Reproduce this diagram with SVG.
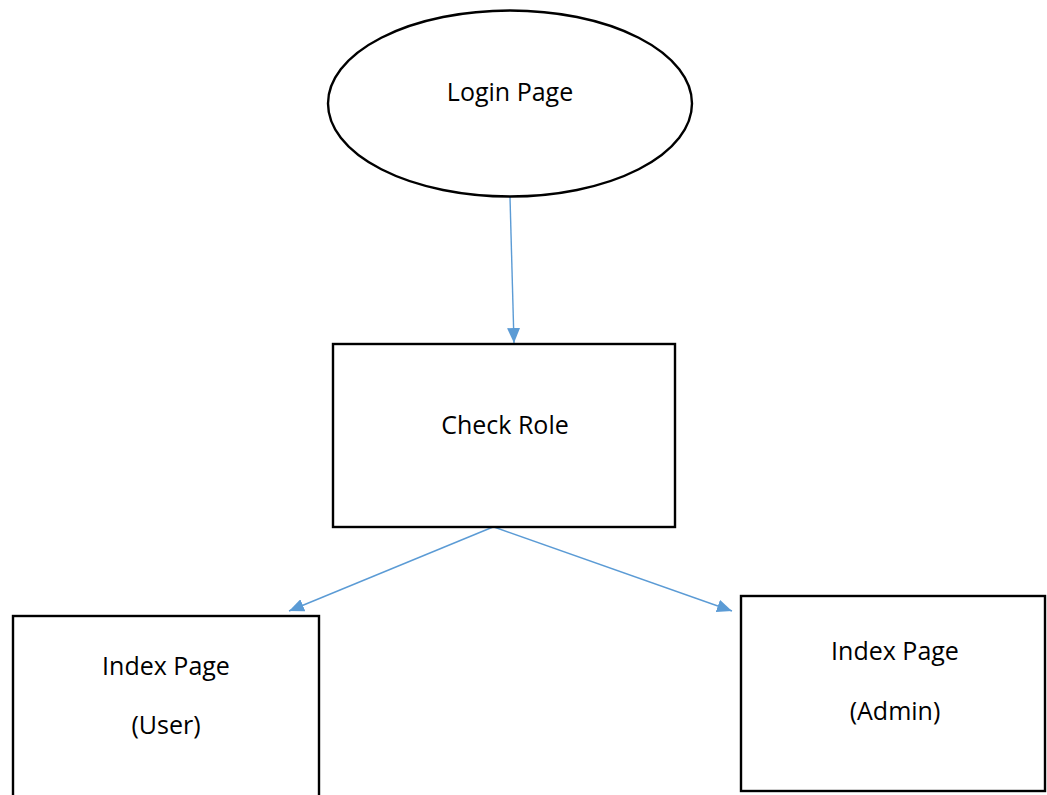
<svg xmlns="http://www.w3.org/2000/svg" width="1047" height="795" viewBox="0 0 1047 795">
  <style>
    .shape { fill: #ffffff; stroke: #000000; stroke-width: 2.4; }
    .label { font-family: "Open Sans", "Noto Sans", sans-serif; font-size: 25px; fill: #000000; text-anchor: middle; }
    .link { stroke: #5B9BD5; stroke-width: 1.4; fill: none; marker-end: url(#arrow); }
  </style>
  <defs>
    <marker id="arrow" viewBox="0 0 15 13" refX="15" refY="6.5" markerWidth="15" markerHeight="13" markerUnits="userSpaceOnUse" orient="auto">
      <path d="M0,0 L15,6.5 L0,13 Z" fill="#5B9BD5"/>
    </marker>
  </defs>
  <rect width="1047" height="795" fill="#ffffff"/>

  <g id="connectors">
    <line class="link" x1="510" y1="197" x2="514" y2="343"/>
    <line class="link" x1="493" y1="527" x2="289" y2="611"/>
    <line class="link" x1="494" y1="527" x2="732" y2="611"/>
  </g>

  <g id="login-page">
    <ellipse class="shape" cx="510" cy="103.5" rx="182" ry="93"/>
    <text class="label" x="510" y="101">Login Page</text>
  </g>

  <g id="check-role">
    <rect class="shape" x="333" y="344" width="342" height="183"/>
    <text class="label" x="505" y="434">Check Role</text>
  </g>

  <g id="index-user">
    <rect class="shape" x="13" y="616" width="306" height="190"/>
    <text class="label" x="166" y="675">Index Page</text>
    <text class="label" x="166" y="734">(User)</text>
  </g>

  <g id="index-admin">
    <rect class="shape" x="741" y="596" width="304" height="195"/>
    <text class="label" x="895" y="660">Index Page</text>
    <text class="label" x="895" y="720">(Admin)</text>
  </g>
</svg>
